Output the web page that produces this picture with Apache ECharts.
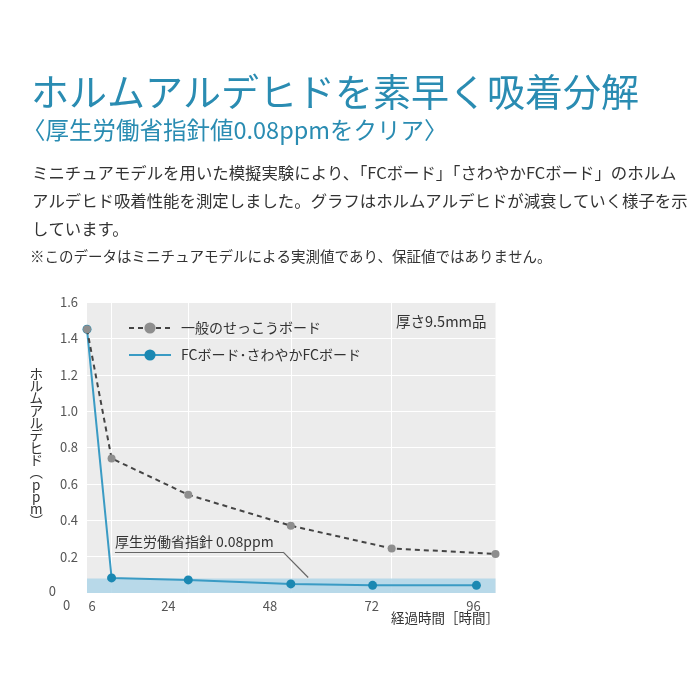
<!DOCTYPE html>
<html>
<head>
<meta charset="utf-8">
<script src="https://cdn.jsdelivr.net/npm/echarts@6/dist/echarts.min.js"></script>
<style>
html,body{margin:0;padding:0;background:#fff;}
#chart{width:700px;height:700px;}
</style>
</head>
<body>
<div id="chart"></div>
<script>
// ---- data ----
const seriesNames = ['一般のせっこうボード', 'FCボード･さわやかFCボード'];
const grayHours = [4.8, 10.6, 28.7, 52.9, 76.7, 101.2];
const grayValues = [1.45, 0.74, 0.54, 0.37, 0.245, 0.215];
const blueHours = [4.8, 10.6, 28.7, 52.9, 72.2, 96.7];
const blueValues = [1.45, 0.083, 0.072, 0.05, 0.042, 0.042];
const xTickLabels = [6, 24, 48, 72, 96];
const yTicks = [0, 0.2, 0.4, 0.6, 0.8, 1.0, 1.2, 1.4, 1.6];
const guideValue = 0.08;
const guideLabel = '厚生労働省指針 0.08ppm';

const FONT = '"Noto Sans CJK JP", "Noto Sans", sans-serif';
const chart = echarts.init(document.getElementById('chart'), null, {renderer: 'canvas'});

const option = {
  backgroundColor: '#ffffff',
  animation: false,
  textStyle: {fontFamily: FONT},
  title: [
    {text: 'ホルムアルデヒドを素早く吸着分解', left: 31, top: 73, padding: 0,
     textStyle: {fontSize: 38, fontWeight: 'normal', color: '#2a8cb2', fontFamily: FONT}},
    {text: '〈厚生労働省指針値0.08ppmをクリア〉', left: 22, top: 118, padding: 0,
     textStyle: {fontSize: 23.5, fontWeight: 'normal', color: '#2a8cb2', fontFamily: FONT}},
    {text: 'ミニチュアモデルを用いた模擬実験により、「FCボード」「さわやかFCボード」のホルム\nアルデヒド吸着性能を測定しました。グラフはホルムアルデヒドが減衰していく様子を示\nしています。',
     left: 32, top: 159, padding: 0,
     textStyle: {fontSize: 16.4, fontWeight: 'normal', color: '#333', lineHeight: 28, fontFamily: FONT}},
    {text: '※このデータはミニチュアモデルによる実測値であり、保証値ではありません。', left: 30, top: 249, padding: 0,
     textStyle: {fontSize: 14.5, fontWeight: 'normal', color: '#333', fontFamily: FONT}},
    {text: '厚さ9.5mm品', left: 396, top: 314, padding: 0,
     textStyle: {fontSize: 14.5, fontWeight: 'normal', color: '#333', fontFamily: FONT}},
    {text: '経過時間［時間］', left: 391, top: 611, padding: 0,
     textStyle: {fontSize: 13.5, fontWeight: 'normal', color: '#333', fontFamily: FONT}}
  ],
  legend: {
    orient: 'vertical', left: 123, top: 316, itemWidth: 42, itemHeight: 14, itemGap: 13,
    textStyle: {fontSize: 14, color: '#333', fontFamily: FONT, padding: [0, 0, 0, 5]},
    data: seriesNames
  },
  grid: {left: 87, right: 204.5, top: 302, bottom: 107, show: true, backgroundColor: '#ececec', borderWidth: 0},
  xAxis: {
    type: 'value', min: grayHours[0], max: grayHours[grayHours.length - 1],
    axisLine: {show: false},
    axisTick: {show: false, customValues: grayHours.slice(1, -1)},
    axisLabel: {customValues: xTickLabels, color: '#555', fontSize: 13, margin: 7, fontFamily: FONT},
    splitLine: {show: true, lineStyle: {color: '#ffffff', width: 1}}
  },
  yAxis: {
    type: 'value', min: yTicks[0], max: yTicks[yTicks.length - 1], interval: 0.2,
    name: 'ホ\nル\nム\nア\nル\nデ\nヒ\nド\n︵\np\np\nm\n︶',
    nameLocation: 'middle', nameRotate: 0, nameGap: 46,
    nameTextStyle: {fontSize: 13.5, lineHeight: 12.3, color: '#333', align: 'center', verticalAlign: 'middle', fontFamily: FONT},
    axisLine: {show: false}, axisTick: {show: false},
    axisLabel: {
      color: '#555', fontSize: 13, margin: 9, fontFamily: FONT,
      formatter: v => v === 0 ? '{z|0}' : v.toFixed(1),
      rich: {z: {fontSize: 13, color: '#555', padding: [0, 22, 4, 0], fontFamily: FONT}}
    },
    splitLine: {show: true, lineStyle: {color: '#ffffff', width: 1}}
  },
  series: [
    {
      name: seriesNames[0], type: 'line', z: 3,
      data: grayHours.map((h, i) => [h, grayValues[i]]),
      symbol: 'circle', symbolSize: 8,
      itemStyle: {color: '#8e8e8e'},
      lineStyle: {color: '#444', width: 2, type: [5, 4]},
      markLine: {
        silent: true, symbol: 'none', animation: false,
        lineStyle: {color: '#666', width: 1.2, type: 'solid'},
        label: {show: false},
        data: [
          [{coord: [11.4, 0.225], label: {show: true, position: 'insideStartTop', formatter: guideLabel, color: '#333', fontSize: 14, distance: [0, 3], fontFamily: FONT}},
           {coord: [51.1, 0.225]}],
          [{coord: [51.1, 0.225]}, {coord: [57, guideValue + 0.005]}]
        ]
      }
    },
    {
      name: seriesNames[1], type: 'line', z: 2,
      data: blueHours.map((h, i) => [h, blueValues[i]]),
      symbol: 'circle', symbolSize: 9,
      itemStyle: {color: '#1b88b2'},
      lineStyle: {color: '#3a9bc4', width: 2},
      markArea: {
        silent: true,
        itemStyle: {color: '#b3d7e9', opacity: 0.9},
        data: [[{yAxis: 0}, {yAxis: guideValue}]]
      }
    }
  ]
};
chart.setOption(option);

// x-axis "0" label, positioned through the axis scale (value 0 lies left of the plotted range)
const p0 = chart.convertToPixel({xAxisIndex: 0, yAxisIndex: 0}, [0, 0]);
chart.setOption({
  graphic: [{type: 'text', x: p0[0], y: p0[1] + 12,
    style: {text: '0', fill: '#555', fontSize: 13, fontFamily: FONT, textAlign: 'center', textVerticalAlign: 'middle'}}]
});
</script>
</body>
</html>
